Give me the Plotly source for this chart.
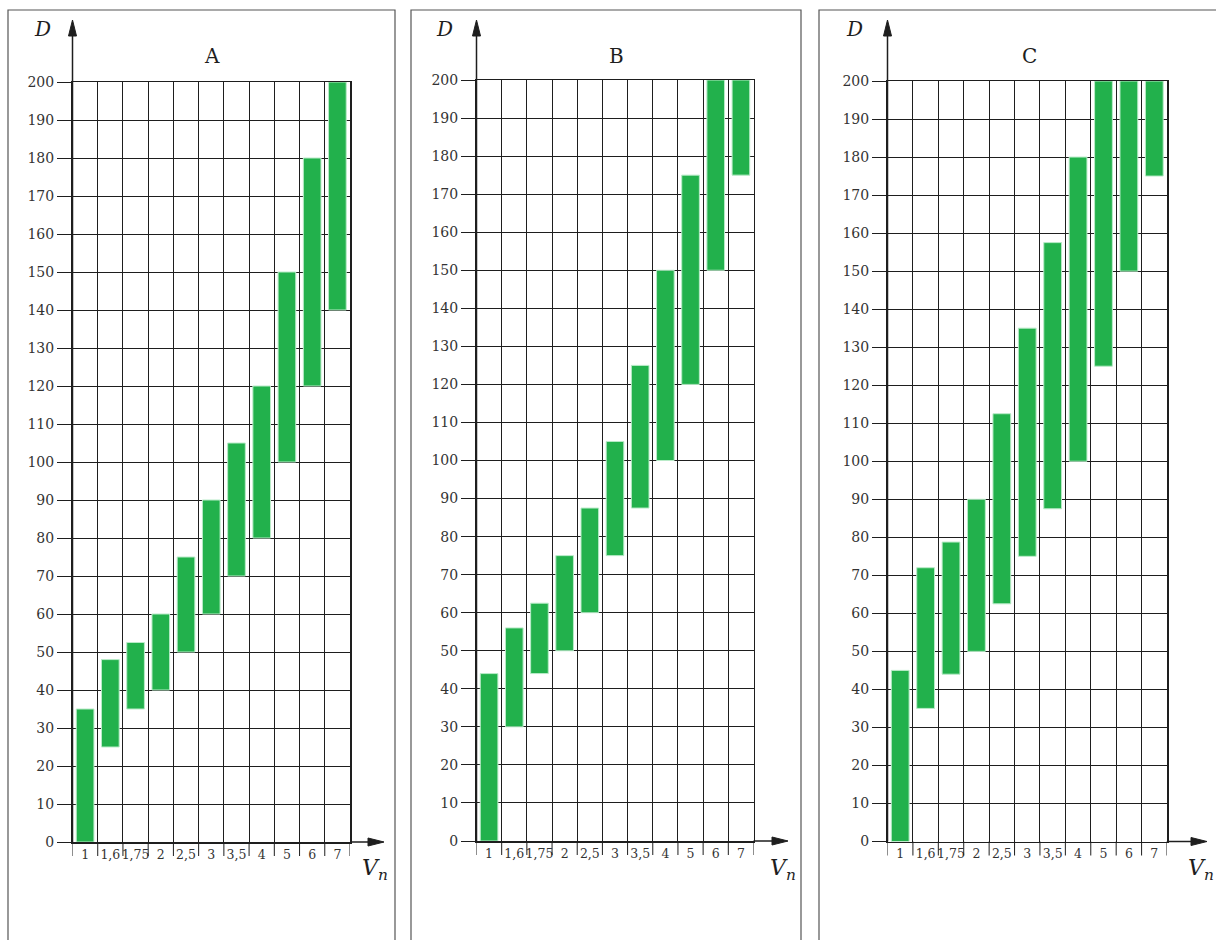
import plotly.graph_objects as go

# ---------------- data ----------------
categories = ["1", "1,6", "1,75", "2", "2,5", "3", "3,5", "4", "5", "6", "7"]

A_low = [0, 25, 35, 40, 50, 60, 70, 80, 100, 120, 140]
A_high = [35, 48, 52.5, 60, 75, 90, 105, 120, 150, 180, 200]

B_low = [0, 30, 44, 50, 60, 75, 87.5, 100, 120, 150, 175]
B_high = [44, 56, 62.5, 75, 87.5, 105, 125, 150, 175, 200, 200]

C_low = [0, 35, 44, 50, 62.5, 75, 87.5, 100, 125, 150, 175]
C_high = [45, 72, 78.75, 90, 112.5, 135, 157.5, 180, 200, 200, 200]

panel_titles = ["A", "B", "C"]
y_tick_values = list(range(0, 201, 10))
y_label = "D"
x_label = "<i>V</i><sub><i>n</i></sub>"

# ---------------- layout helpers ----------------
W, H = 1216, 940
def px(x):
    return x / W
def py(y):
    return 1 - y / H

GREEN = "#22b14c"
INK = "#1e1e1e"
TXT = "#333333"
FONT = "DejaVu Serif"

geo = [
    dict(ax=72.5, right=350, top=82, bottom=842, box=(8, 395), dx=42, tx=212, xtip=384, vx=371),
    dict(ax=476.5, right=753.5, top=80, bottom=841, box=(411, 801), dx=444, tx=616, xtip=788, vx=779),
    dict(ax=887.5, right=1167, top=81, bottom=841.5, box=(819, 1240), dx=854, tx=1029, xtip=1207, vx=1197),
]
data_sets = [(A_low, A_high), (B_low, B_high), (C_low, C_high)]

fig = go.Figure()
shapes = []
annotations = []

for i, (g, (lows, highs), title) in enumerate(zip(geo, data_sets, panel_titles)):
    sfx = "" if i == 0 else str(i + 1)
    xa, ya = "x" + sfx, "y" + sfx
    fig.add_trace(go.Bar(
        x=categories,
        y=[h - l for l, h in zip(lows, highs)],
        base=lows,
        width=0.7,
        marker=dict(color=GREEN, line=dict(color="#b9ebc8", width=1)),
        xaxis=xa, yaxis=ya, showlegend=False, hoverinfo="skip",
    ))
    fig.layout["xaxis" + sfx] = dict(
        domain=[px(g["ax"]), px(g["right"])],
        type="category", categoryorder="array", categoryarray=categories,
        range=[-0.5, len(categories) - 0.5],
        tickson="boundaries", ticks="", tickangle=0, automargin=False,
        showgrid=True, gridcolor=INK, gridwidth=1,
        showline=True, linecolor=INK, linewidth=1.5, mirror=True,
        anchor=ya, fixedrange=True,
        tickfont=dict(family=FONT, size=12.5, color=TXT),
    )
    fig.layout["yaxis" + sfx] = dict(
        domain=[py(g["bottom"]), py(g["top"])],
        range=[0, 200], tickvals=y_tick_values, automargin=False,
        ticks="outside", ticklen=14, tickcolor=INK, tickwidth=1,
        showgrid=True, gridcolor=INK, gridwidth=1, zeroline=False,
        showline=True, linecolor=INK, linewidth=1.5, mirror=True,
        anchor=xa, fixedrange=True,
        tickfont=dict(family=FONT, size=14, color=TXT),
    )
    # panel frame
    shapes.append(dict(type="rect", xref="paper", yref="paper",
                       x0=px(g["box"][0]), x1=px(g["box"][1]), y0=py(960), y1=py(10),
                       line=dict(color="#555", width=1.2), layer="below"))
    # y-axis arrow
    shapes.append(dict(type="line", xref="paper", yref="paper",
                       x0=px(g["ax"]), x1=px(g["ax"]), y0=py(g["bottom"]), y1=py(30),
                       line=dict(color=INK, width=1.5)))
    shapes.append(dict(type="path", xref="paper", yref="paper",
                       path=f"M {px(g['ax'])} {py(20)} L {px(g['ax']-4)} {py(36)} L {px(g['ax']+4)} {py(36)} Z",
                       fillcolor=INK, line=dict(color=INK, width=1)))
    # x-axis arrow
    shapes.append(dict(type="line", xref="paper", yref="paper",
                       x0=px(g["right"]), x1=px(g["xtip"] - 8), y0=py(g["bottom"]), y1=py(g["bottom"]),
                       line=dict(color=INK, width=1.5)))
    shapes.append(dict(type="path", xref="paper", yref="paper",
                       path=f"M {px(g['xtip'])} {py(g['bottom'])} L {px(g['xtip']-16)} {py(g['bottom']-4)} L {px(g['xtip']-16)} {py(g['bottom']+4)} Z",
                       fillcolor=INK, line=dict(color=INK, width=1)))
    # tick marks below the x axis at category boundaries
    for k in range(len(categories) + 1):
        shapes.append(dict(type="line", xref=xa, yref="paper",
                           x0=k - 0.5, x1=k - 0.5, y0=py(g["bottom"]), y1=py(g["bottom"] + 14),
                           line=dict(color=INK, width=1)))
    # texts
    common = dict(xref="paper", yref="paper", showarrow=False, xanchor="center", yanchor="middle")
    annotations.append(dict(text="<i>" + y_label + "</i>", x=px(g["dx"]), y=py(29),
                            font=dict(family=FONT, size=20, color=INK), **common))
    annotations.append(dict(text=title, x=px(g["tx"]), y=py(56),
                            font=dict(family=FONT, size=20, color=INK), **common))
    annotations.append(dict(text=x_label, x=px(g["vx"] + 4), y=py(869),
                            font=dict(family=FONT, size=22, color=INK), **common))

fig.update_layout(
    width=W, height=H, autosize=False,
    margin=dict(l=0, r=0, t=0, b=0, pad=0),
    paper_bgcolor="white", plot_bgcolor="white",
    bargap=0.3, barmode="overlay",
    shapes=shapes, annotations=annotations,
)

fig.write_html("out.html",
               config={"displayModeBar": False, "staticPlot": True},
               post_script="document.body.style.margin='0';document.body.style.overflow='hidden';")
